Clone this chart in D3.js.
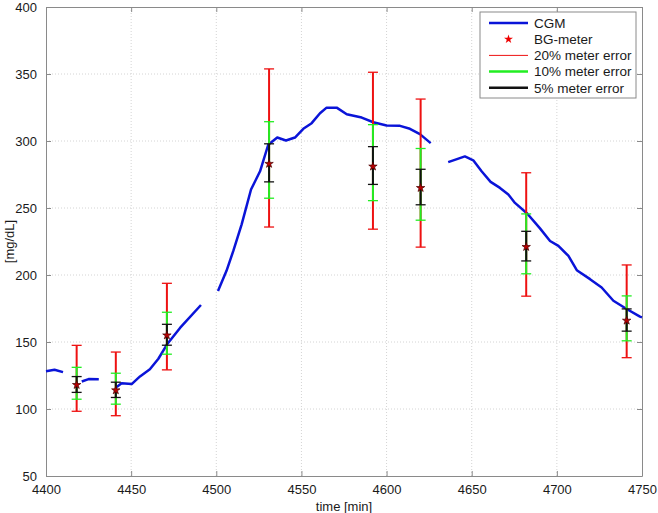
<!DOCTYPE html>
<html>
<head>
<meta charset="utf-8">
<script src="https://cdn.jsdelivr.net/npm/d3@7"></script>
<style>
  body { margin: 0; background: #fff; }
  svg { display: block; font-family: "Liberation Sans", Arial, sans-serif; }
</style>
</head>
<body>
<svg></svg>
<script>
// CGM trace, split where the sensor has gaps
const cgmSegments = [
  [[4400, 128.2], [4405, 129.3], [4410, 127.5]],
  [[4421, 120.5], [4425, 122.3], [4431, 122.2]],
  [[4441.5, 116.5], [4444.4, 119.3], [4450.3, 118.6], [4455.2, 124.3], [4461, 129.7],
   [4466, 137.5], [4471, 148.1], [4478.7, 160.5], [4491, 177.6]],
  [[4501, 188], [4506, 203.1], [4510, 218], [4514.9, 237.8], [4520.4, 263.8],
   [4525.7, 277.4], [4530.5, 297.2], [4535.8, 302.6], [4540.9, 300.4], [4546.2, 302.6],
   [4551.1, 309.1], [4556, 313.3], [4560.9, 320.7], [4564.8, 324.9], [4570.7, 324.9],
   [4576.6, 320], [4585.4, 317.5], [4592.2, 314], [4600, 311.6], [4607.9, 311.3],
   [4613.7, 309.1], [4619.6, 305.1], [4625.9, 298.4]],
  [[4636.2, 284.2], [4646, 288.5], [4650.9, 285.6], [4655.8, 277.4], [4661.1, 269.5],
   [4666.6, 265], [4671.5, 260.1], [4675.4, 253.8], [4682.7, 245.7], [4690.1, 234.8],
   [4696, 225.4], [4700.9, 221.7], [4706.8, 214.2], [4711.7, 203.6], [4719.5, 196.9],
   [4726.3, 190.7], [4733.2, 180.8], [4741, 174.6], [4748.8, 168.9], [4750, 168.4]]
];

// BG meter readings
const meterTimes = [4418, 4441, 4471, 4531, 4592, 4620, 4682, 4741];
const meterValues = [118, 114, 155, 283, 281, 265, 221, 166];

// error bar ends [low, high]
const err20 = [[98.3, 147.5], [95.0, 142.5], [129.2, 193.8], [235.8, 353.8],
               [234.2, 351.3], [220.8, 331.3], [184.2, 276.3], [138.3, 207.5]];
const err10 = [[107.3, 131.1], [103.6, 126.7], [140.9, 172.2], [257.3, 314.4],
               [255.5, 312.2], [240.9, 294.4], [200.9, 245.6], [150.9, 184.4]];
const err5  = [[112.4, 124.2], [108.6, 120.0], [147.6, 163.2], [269.5, 297.9],
               [267.6, 295.8], [252.4, 278.9], [210.5, 232.6], [158.1, 174.7]];

const xTicks = [4400, 4450, 4500, 4550, 4600, 4650, 4700, 4750];
const yTicks = [50, 100, 150, 200, 250, 300, 350, 400];

const legendLabels = ["CGM", "BG-meter", "20% meter error", "10% meter error", "5% meter error"];

// 畫布
const W = 658, H = 513;
const margin = { top: 7, right: 16, bottom: 37, left: 46 };
const width = W - margin.left - margin.right;
const height = H - margin.top - margin.bottom;

const svg = d3.select("svg").attr("width", W).attr("height", H);
const g = svg.append("g").attr("transform", `translate(${margin.left},${margin.top})`);

const x = d3.scaleLinear().domain([4400, 4750]).range([0, width]);
const y = d3.scaleLinear().domain([50, 400]).range([height, 0]);

const axisColor = "#8a8a8a";

// grid
g.append("g").selectAll("line").data(xTicks.slice(1, -1)).enter().append("line")
  .attr("x1", d => x(d)).attr("x2", d => x(d)).attr("y1", 0).attr("y2", height)
  .attr("stroke", "#d4d4d4").attr("stroke-dasharray", "1,2");
g.append("g").selectAll("line").data(yTicks.slice(1, -1)).enter().append("line")
  .attr("x1", 0).attr("x2", width).attr("y1", d => y(d)).attr("y2", d => y(d))
  .attr("stroke", "#d4d4d4").attr("stroke-dasharray", "1,2");

// axes (ticks point inward, on all four sides)
function styleAxis(sel) {
  sel.selectAll(".domain").attr("stroke", axisColor);
  sel.selectAll(".tick line").attr("stroke", axisColor);
  sel.selectAll("text").attr("fill", "#1a1a1a").attr("font-size", 13)
    .attr("font-family", "Liberation Sans, Arial, sans-serif");
}

g.append("g").attr("transform", `translate(0,${height})`)
  .call(d3.axisBottom(x).tickValues(xTicks).tickFormat(d3.format("d"))
    .tickSizeInner(-5).tickSizeOuter(0).tickPadding(9))
  .call(styleAxis);
g.append("g")
  .call(d3.axisTop(x).tickValues(xTicks).tickFormat("").tickSizeInner(-5).tickSizeOuter(0))
  .call(styleAxis);
g.append("g")
  .call(d3.axisLeft(y).tickValues(yTicks).tickFormat(d3.format("d"))
    .tickSizeInner(-5).tickSizeOuter(0).tickPadding(9))
  .call(styleAxis);
g.append("g").attr("transform", `translate(${width},0)`)
  .call(d3.axisRight(y).tickValues(yTicks).tickFormat("").tickSizeInner(-5).tickSizeOuter(0))
  .call(styleAxis);

// CGM line
const line = d3.line().x(d => x(d[0])).y(d => y(d[1]));
g.append("g").selectAll("path").data(cgmSegments).enter().append("path")
  .attr("d", line).attr("fill", "none").attr("stroke", "#0a14d8")
  .attr("stroke-width", 2.5).attr("stroke-linejoin", "round");

// error bars
const capW = 5;
function drawBars(errs, color, sw) {
  const eb = g.append("g").selectAll("g").data(errs).enter().append("g");
  eb.append("line")
    .attr("x1", (d, i) => x(meterTimes[i])).attr("x2", (d, i) => x(meterTimes[i]))
    .attr("y1", d => y(d[0])).attr("y2", d => y(d[1]))
    .attr("stroke", color).attr("stroke-width", sw);
  [0, 1].forEach(k => {
    eb.append("line")
      .attr("x1", (d, i) => x(meterTimes[i]) - capW).attr("x2", (d, i) => x(meterTimes[i]) + capW)
      .attr("y1", d => y(d[k])).attr("y2", d => y(d[k]))
      .attr("stroke", color).attr("stroke-width", 1.3);
  });
}
drawBars(err20, "#ee1111", 2);
drawBars(err10, "#22ee22", 2);
drawBars(err5, "#111111", 2);

// meter stars
const star = d3.symbol().type(d3.symbolStar).size(22);
g.append("g").selectAll("path").data(meterValues).enter().append("path")
  .attr("d", star)
  .attr("transform", (d, i) => `translate(${x(meterTimes[i])},${y(d)})`)
  .attr("fill", "#b80000").attr("stroke", "#4a0000").attr("stroke-width", 0.7);

// axis labels
svg.append("text").attr("x", margin.left + width / 2).attr("y", 511)
  .attr("text-anchor", "middle").attr("font-size", 13).attr("fill", "#1a1a1a")
  .text("time [min]");
svg.append("text")
  .attr("transform", `translate(14,${margin.top + height / 2}) rotate(-90)`)
  .attr("text-anchor", "middle").attr("font-size", 13).attr("fill", "#1a1a1a")
  .text("[mg/dL]");

// legend
const legend = svg.append("g").attr("transform", "translate(480,12)");
legend.append("rect").attr("width", 156).attr("height", 86)
  .attr("fill", "#fff").attr("stroke", axisColor);
const legendStyles = [
  { color: "#0a14d8", sw: 2.5 },
  { color: null },
  { color: "#ee1111", sw: 1 },
  { color: "#22ee22", sw: 2.5 },
  { color: "#111111", sw: 2.5 }
];
const rows = legend.selectAll("g").data(legendLabels).enter().append("g")
  .attr("transform", (d, i) => `translate(0,${11 + i * 16.2})`);
rows.each(function(d, i) {
  const r = d3.select(this);
  const s = legendStyles[i];
  if (s.color) {
    r.append("line").attr("x1", 9).attr("x2", 48).attr("y1", 0).attr("y2", 0)
      .attr("stroke", s.color).attr("stroke-width", s.sw);
  } else {
    r.append("path").attr("d", d3.symbol().type(d3.symbolStar).size(25))
      .attr("transform", "translate(28.5,0)").attr("fill", "#ee0000");
  }
  r.append("text").attr("x", 54).attr("y", 0).attr("dy", "0.35em")
    .attr("font-size", 13.5).attr("fill", "#1a1a1a").text(d);
});
</script>
</body>
</html>
